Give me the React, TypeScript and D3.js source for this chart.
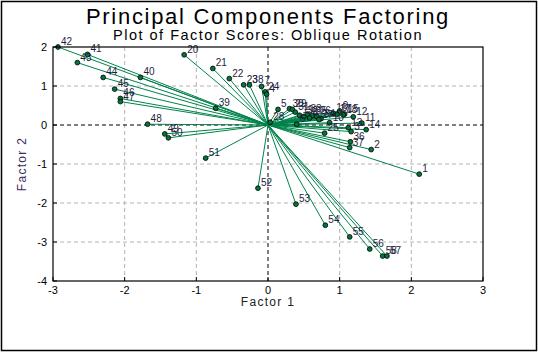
import { useEffect, useRef } from 'react'
import * as d3 from 'd3'

// case labels and factor scores
const caseLabels = [
  '42', '41', '43', '44', '40', '45', '46', '47', '20', '21',
  '22', '23', '38', '7', '24', '4', '39', '48', '49', '50',
  '51', '52', '53', '54', '55', '56', '58', '57', '1', '2',
  '36', '37', '3', '13', '14', '11', '12', '15', '9', '16',
  '17', '18', '25', '34', '10', '30', '29', '5', '28', '31',
  '32', '33', '35', '26', '27', '6', '8', '19',
]
const factor1 = [
  -2.93, -2.52, -2.66, -2.30, -1.78, -2.14, -2.06, -2.06, -1.17, -0.77,
  -0.54, -0.34, -0.26, -0.09, -0.04, -0.02, -0.73, -1.68, -1.44, -1.39,
  -0.87, -0.14, 0.39, 0.80, 1.14, 1.42, 1.60, 1.66, 2.11, 1.44,
  1.15, 1.14, 1.16, 1.12, 1.37, 1.31, 1.19, 1.07, 1.00, 0.91,
  0.96, 1.05, 0.79, 0.74, 0.86, 0.30, 0.34, 0.14, 0.03, 0.38,
  0.50, 0.55, 0.62, 0.68, 0.71, 0.40, 0.58, 0.44,
]
const factor2 = [
  2.00, 1.81, 1.60, 1.22, 1.22, 0.92, 0.68, 0.60, 1.80, 1.45,
  1.19, 1.03, 1.03, 0.99, 0.85, 0.79, 0.43, 0.02, -0.23, -0.33,
  -0.85, -1.62, -2.03, -2.57, -2.87, -3.18, -3.36, -3.36, -1.26, -0.63,
  -0.43, -0.58, -0.17, -0.07, -0.12, 0.05, 0.21, 0.28, 0.36, 0.30,
  0.27, 0.26, -0.21, 0.16, 0.06, 0.42, 0.40, 0.40, 0.07, 0.33,
  0.22, 0.28, 0.24, 0.22, 0.14, 0.02, 0.18, 0.25,
]
const xTicks = [-3, -2, -1, 0, 1, 2, 3]
const yTicks = [-4, -3, -2, -1, 0, 1, 2]

const W = 538
const H = 352
const margin = { left: 53, right: 55, top: 47, bottom: 71 }
const font = 'Arial, "Liberation Sans", sans-serif'

export default function App() {
  const svgRef = useRef<SVGSVGElement>(null)

  useEffect(() => {
    if (!svgRef.current) return
    const svg = d3.select(svgRef.current)
    svg.selectAll('*').remove()

    const x = d3.scaleLinear().domain([-3, 3]).range([margin.left, W - margin.right])
    const y = d3.scaleLinear().domain([-4, 2]).range([H - margin.bottom, margin.top])

    svg.append('rect')
      .attr('x', 0).attr('y', 0).attr('width', W).attr('height', H)
      .attr('fill', '#fff')
    svg.append('rect')
      .attr('x', 1.5).attr('y', 1.5).attr('width', W - 3).attr('height', H - 3)
      .attr('fill', 'none').attr('stroke', '#000').attr('stroke-width', 1.5)

    svg.append('text')
      .attr('x', x(0)).attr('y', 24)
      .attr('text-anchor', 'middle')
      .attr('font-family', font).attr('font-size', 22)
      .attr('letter-spacing', 1.7)
      .text('Principal Components Factoring')
    svg.append('text')
      .attr('x', x(0)).attr('y', 40)
      .attr('text-anchor', 'middle')
      .attr('font-family', font).attr('font-size', 14.5)
      .attr('letter-spacing', 1.5)
      .text('Plot of Factor Scores: Oblique Rotation')

    const g = svg.append('g')

    // grid
    g.selectAll('.vgrid')
      .data(xTicks.slice(1, -1))
      .enter().append('line')
      .attr('x1', d => x(d)).attr('x2', d => x(d))
      .attr('y1', y(2)).attr('y2', y(-4))
      .attr('stroke', d => d === 0 ? '#000' : '#b4b4b4')
      .attr('stroke-dasharray', '4,3')
    g.selectAll('.hgrid')
      .data(yTicks.slice(1, -1))
      .enter().append('line')
      .attr('y1', d => y(d)).attr('y2', d => y(d))
      .attr('x1', x(-3)).attr('x2', x(3))
      .attr('stroke', d => d === 0 ? '#000' : '#b4b4b4')
      .attr('stroke-dasharray', '4,3')

    const pts = caseLabels.map((label, i) => ({ label, f1: factor1[i], f2: factor2[i] }))

    g.selectAll('.ray')
      .data(pts)
      .enter().append('line')
      .attr('x1', x(0)).attr('y1', y(0))
      .attr('x2', d => x(d.f1)).attr('y2', d => y(d.f2))
      .attr('stroke', '#00834a').attr('stroke-width', 1)

    g.selectAll('.pt')
      .data(pts)
      .enter().append('circle')
      .attr('cx', d => x(d.f1)).attr('cy', d => y(d.f2))
      .attr('r', 2.4)
      .attr('fill', '#00753c').attr('stroke', '#000').attr('stroke-width', 0.8)

    g.selectAll('.lbl')
      .data(pts)
      .enter().append('text')
      .attr('x', d => x(d.f1) + 3).attr('y', d => y(d.f2) - 2)
      .attr('font-family', font).attr('font-size', 10)
      .attr('fill', '#1e1e3c')
      .text(d => d.label)

    // frame
    g.append('rect')
      .attr('x', x(-3)).attr('y', y(2))
      .attr('width', x(3) - x(-3)).attr('height', y(-4) - y(2))
      .attr('fill', 'none').attr('stroke', '#000').attr('stroke-width', 1.2)

    // inward ticks
    g.selectAll('.xt')
      .data(xTicks)
      .enter().append('line')
      .attr('x1', d => x(d)).attr('x2', d => x(d))
      .attr('y1', y(-4)).attr('y2', y(-4) - 4)
      .attr('stroke', '#000')
    g.selectAll('.yt')
      .data(yTicks)
      .enter().append('line')
      .attr('y1', d => y(d)).attr('y2', d => y(d))
      .attr('x1', x(-3)).attr('x2', x(-3) + 4)
      .attr('stroke', '#000')

    g.selectAll('.xl')
      .data(xTicks)
      .enter().append('text')
      .attr('x', d => x(d)).attr('y', y(-4) + 13)
      .attr('text-anchor', 'middle')
      .attr('font-family', font).attr('font-size', 11)
      .text(d => String(d))
    g.selectAll('.yl')
      .data(yTicks)
      .enter().append('text')
      .attr('x', x(-3) - 6).attr('y', d => y(d) + 4)
      .attr('text-anchor', 'end')
      .attr('font-family', font).attr('font-size', 11)
      .text(d => String(d))

    svg.append('text')
      .attr('x', x(0)).attr('y', 306)
      .attr('text-anchor', 'middle')
      .attr('font-family', font).attr('font-size', 12)
      .attr('letter-spacing', 1.3)
      .attr('fill', '#222')
      .text('Factor 1')
    svg.append('text')
      .attr('transform', `translate(26,${y(-1)}) rotate(-90)`)
      .attr('text-anchor', 'middle')
      .attr('font-family', font).attr('font-size', 12)
      .attr('letter-spacing', 1.3)
      .attr('fill', '#3c2c5c')
      .text('Factor 2')
  }, [])

  return (
    <svg
      ref={svgRef}
      width={W}
      height={H}
      style={{ position: 'absolute', left: 0, top: 0 }}
    />
  )
}
